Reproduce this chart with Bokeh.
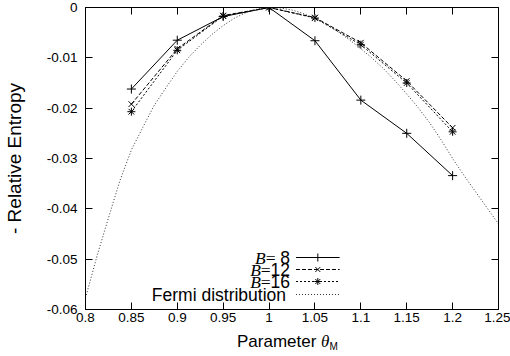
from bokeh.plotting import figure
from bokeh.layouts import column
from bokeh.models import Range1d, FixedTicker, LinearAxis, Label, PrintfTickFormatter, Div
from bokeh.embed import file_html
from bokeh.resources import INLINE

# ---------------- data ----------------
theta = [0.85, 0.90, 0.95, 1.00, 1.05, 1.10, 1.15, 1.20]
re_b8 = [-0.0162, -0.0065, -0.0018, 0.0, -0.0066, -0.0184, -0.0250, -0.0334]
re_b12 = [-0.0192, -0.0082, -0.0016, 0.0, -0.0020, -0.0070, -0.0146, -0.0239]
re_b16 = [-0.0207, -0.0085, -0.0017, 0.0, -0.0021, -0.0074, -0.0150, -0.0247]

fermi_theta = [0.80, 0.8125, 0.825, 0.8375, 0.85, 0.8625, 0.875, 0.8875, 0.90,
               0.9125, 0.925, 0.9375, 0.95, 0.9625, 0.975, 0.9875, 1.00,
               1.0125, 1.025, 1.0375, 1.05, 1.0625, 1.075, 1.0875, 1.10,
               1.1125, 1.125, 1.1375, 1.15, 1.1625, 1.175, 1.1875, 1.20,
               1.2125, 1.225, 1.2375, 1.25]
fermi_re = [-0.0577, -0.0494, -0.0418, -0.0344, -0.0283, -0.0238, -0.0194, -0.0160, -0.0127,
            -0.0099, -0.0075, -0.0054, -0.0036, -0.0021, -0.0010, -0.0003, 0.0,
            -0.0001, -0.0005, -0.0012, -0.0022, -0.0033, -0.0048, -0.0064, -0.0082,
            -0.0101, -0.0122, -0.0146, -0.0172, -0.0199, -0.0229, -0.0263, -0.0300,
            -0.0334, -0.0366, -0.0398, -0.0430]

B_values = [8, 12, 16]
x_ticks = [0.8, 0.85, 0.9, 0.95, 1.0, 1.05, 1.1, 1.15, 1.2, 1.25]
y_ticks = [-0.06, -0.05, -0.04, -0.03, -0.02, -0.01, 0.0]
X0, X1 = 0.8, 1.25
Y0, Y1 = -0.06, 0.0

# ---------------- layout ----------------
W, H = 510, 330
LABEL_H = 26
BL, BR, BT, BB = 82, 12, 7, 21
FRAME_L, FRAME_R = BL, W - BR
FRAME_T, FRAME_B = BT, H - BB


def dx(px):
    return X0 + (px - FRAME_L) / (FRAME_R - FRAME_L) * (X1 - X0)


def dy(py):
    return Y1 - (py - FRAME_T) / (FRAME_B - FRAME_T) * (Y1 - Y0)


SANS = "Liberation Sans"
SERIF = "Liberation Serif"
TICK_FS = "13.5px"

p = figure(width=W, height=H, output_backend="svg", toolbar_location=None,
           x_range=Range1d(X0, X1), y_range=Range1d(Y0, Y1),
           min_border_left=BL, min_border_right=BR, min_border_top=BT, min_border_bottom=BB)
p.grid.visible = False
p.outline_line_color = "black"
p.outline_line_width = 1
p.outline_line_alpha = 1.0
p.background_fill_color = "white"
p.border_fill_color = "white"

fmt = PrintfTickFormatter(format="%g")
for ax in (p.xaxis[0], p.yaxis[0]):
    ax.axis_line_color = "black"
    ax.major_tick_in = 7
    ax.major_tick_out = 0
    ax.minor_tick_line_color = None
    ax.major_tick_line_color = "black"
    ax.major_label_text_font = SANS
    ax.major_label_text_font_size = TICK_FS
    ax.major_label_text_color = "black"
    ax.formatter = fmt
p.xaxis[0].ticker = FixedTicker(ticks=x_ticks)
p.yaxis[0].ticker = FixedTicker(ticks=y_ticks)
p.xaxis[0].major_label_standoff = 3
p.yaxis[0].major_label_standoff = 8
p.yaxis[0].axis_label = "- Relative Entropy"
p.yaxis[0].axis_label_text_font = SANS
p.yaxis[0].axis_label_text_font_size = "19px"
p.yaxis[0].axis_label_text_font_style = "normal"
p.yaxis[0].axis_label_text_color = "black"
p.yaxis[0].axis_label_standoff = 19

# mirrored ticks on top and right (no labels)
for loc, ticks in (("above", x_ticks), ("right", y_ticks)):
    ax = LinearAxis(ticker=FixedTicker(ticks=ticks))
    ax.axis_line_color = None
    ax.major_tick_in = 7
    ax.major_tick_out = 0
    ax.minor_tick_line_color = None
    ax.major_tick_line_color = "black"
    ax.major_label_text_color = None
    ax.major_label_text_font_size = "1px"
    ax.major_label_standoff = 0
    p.add_layout(ax, loc)

# ---------------- series ----------------
series = [
    (re_b8, "solid", "cross", 9),
    (re_b12, "4 2", "x", 8),
    (re_b16, "2 2", "asterisk", 8),
]
for vals, dash, marker, size in series:
    p.line(theta, vals, line_color="black", line_width=1, line_dash=dash)
    p.scatter(theta, vals, marker=marker, size=size, line_color="black", line_width=1)

p.line(fermi_theta, fermi_re, line_color="#333333", line_width=1, line_dash="1 2")

# ---------------- legend (gnuplot style: text right, sample left) ----------------
ROW_PY = [257, 269, 281, 294]
NUM_RIGHT = 288
FERMI_RIGHT = 284
SAMPLE_L, SAMPLE_R, SAMPLE_MID = 294, 338, 316
LEG_FS = 17.5
DIGIT_W = 0.556 * LEG_FS
SPACE_W = 0.278 * LEG_FS
EQ_W = 0.564 * LEG_FS

for (vals, dash, marker, size), b, py in zip(series, B_values, ROW_PY):
    s = f"{b:2d}"
    num_w = sum(DIGIT_W if c != " " else SPACE_W for c in s)
    eq_right = NUM_RIGHT - num_w
    p.add_layout(Label(x=dx(NUM_RIGHT), y=dy(py), text=str(b), text_align="right",
                       text_baseline="middle", text_font=SANS,
                       text_font_size=f"{LEG_FS}px", text_color="black"))
    p.add_layout(Label(x=dx(eq_right), y=dy(py), text="=", text_align="right",
                       text_baseline="middle", text_font=SERIF,
                       text_font_size=f"{LEG_FS}px", text_color="black"))
    p.add_layout(Label(x=dx(eq_right - EQ_W), y=dy(py), text="B", text_align="right",
                       text_baseline="middle", text_font=SERIF, text_font_style="italic",
                       text_font_size=f"{LEG_FS}px", text_color="black"))
    p.segment(x0=[dx(SAMPLE_L)], y0=[dy(py)], x1=[dx(SAMPLE_R)], y1=[dy(py)],
              line_color="black", line_width=1, line_dash=dash)
    p.scatter([dx(SAMPLE_MID)], [dy(py)], marker=marker, size=size - 1,
              line_color="black", line_width=1)

py = ROW_PY[3]
p.add_layout(Label(x=dx(FERMI_RIGHT), y=dy(py), text="Fermi distribution", text_align="right",
                   text_baseline="middle", text_font=SANS,
                   text_font_size=f"{LEG_FS}px", text_color="black"))
p.segment(x0=[dx(SAMPLE_L)], y0=[dy(py)], x1=[dx(SAMPLE_R)], y1=[dy(py)],
          line_color="#333333", line_width=1, line_dash="1 2")

# ---------------- x axis label: Parameter θ_M (HTML text under the plot) ----------------
XLABEL_LEFT = 237
xlabel_html = (
    f'<div style="margin-left:{XLABEL_LEFT}px; padding-top:2px; white-space:nowrap; '
    f'font-family:\'{SANS}\'; font-size:17px; line-height:20px; color:black;">'
    f'Parameter <span style="font-family:\'{SERIF}\'; font-style:italic;">θ</span>'
    f'<span style="font-size:10px; position:relative; top:3px;">M</span></div>'
)
xlabel = Div(text=xlabel_html, width=W, height=LABEL_H, margin=(0, 0, 0, 0))

layout = column(p, xlabel, spacing=0)

open("out.html", "w").write(file_html(layout, INLINE))
